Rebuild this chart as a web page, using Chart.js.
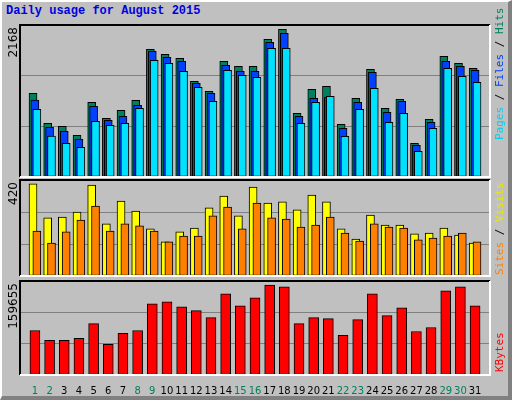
<!DOCTYPE html>
<html>
<head>
<meta charset="utf-8">
<script src="https://cdn.jsdelivr.net/npm/chart.js@4/dist/chart.umd.min.js"></script>
<style>
  body { margin: 0; }
  #wrap { position: relative; width: 512px; height: 400px; background: #c0c0c0; overflow: hidden; }
  #wrap::after { content: ''; position: absolute; inset: 0; border-top: 2px solid #fff; border-left: 2px solid #fff;
    border-right: 4px solid #808080; border-bottom: 4px solid #808080; pointer-events: none; }
  canvas { position: absolute; left: 0; top: 0; }
  #title { position: absolute; left: 6px; top: 4px; font: bold 12px 'Liberation Mono', 'DejaVu Sans Mono', monospace; color: #0000e0; }
</style>
</head>
<body>
<div id="wrap">
  <div id="title">Daily usage for August 2015</div>
  <canvas id="topChart" width="512" height="400"></canvas>
  <canvas id="midChart" width="512" height="400"></canvas>
  <canvas id="botChart" width="512" height="400"></canvas>
</div>
<script>
// Données
const days = Array.from({ length: 31 }, (_, i) => i + 1);
const weekendDays = [1, 2, 8, 9, 15, 16, 22, 23, 29, 30];

const hits = [1194, 766, 723, 595, 1065, 837, 951, 1094, 1821, 1750, 1693, 1365, 1222, 1650, 1579, 1579,
  1964, 2106, 908, 1251, 1293, 751, 1122, 1536, 980, 1108, 481, 823, 1721, 1621, 1550];
const files = [1098, 709, 652, 542, 1008, 809, 866, 1022, 1793, 1707, 1650, 1336, 1194, 1593, 1507, 1507,
  1921, 2049, 866, 1122, 1137, 694, 1065, 1493, 923, 1079, 452, 780, 1650, 1579, 1522];
const pages = [965, 585, 481, 424, 794, 737, 766, 980, 1664, 1621, 1507, 1279, 1080, 1522, 1450, 1422,
  1835, 1835, 766, 1065, 1151, 580, 965, 1265, 780, 908, 366, 694, 1550, 1436, 1350];

const visits = [403, 254, 258, 280, 398, 228, 328, 284, 206, 149, 193, 210, 298, 350, 263, 389,
  319, 324, 289, 354, 324, 206, 162, 267, 223, 223, 184, 188, 210, 179, 144];
const sites = [197, 144, 193, 245, 306, 197, 228, 219, 197, 149, 175, 175, 263, 302, 206, 319,
  254, 249, 214, 223, 258, 188, 153, 228, 214, 210, 158, 166, 175, 188, 149];

const kbytes = [75630, 58820, 58820, 62180, 87390, 52100, 70590, 75630, 121000, 124360, 115960, 109240,
  97470, 137810, 117640, 131090, 152930, 149570, 87390, 97470, 95790, 67220, 94110, 137810, 100830,
  114280, 73940, 80670, 142850, 149570, 117640];

const maxHits = 2168;
const maxVisits = 420;
const maxKB = 159655;

// Cadre en relief autour de la zone de tracé
const framePlugin = {
  id: 'frame',
  afterDraw(chart) {
    const { ctx, chartArea: a } = chart;
    ctx.save();
    ctx.lineWidth = 2;
    ctx.strokeStyle = '#000';
    ctx.beginPath();
    ctx.moveTo(a.left, a.bottom); ctx.lineTo(a.left, a.top); ctx.lineTo(a.right, a.top);
    ctx.stroke();
    ctx.strokeStyle = '#fff';
    ctx.beginPath();
    ctx.moveTo(a.right, a.top); ctx.lineTo(a.right, a.bottom); ctx.lineTo(a.left, a.bottom);
    ctx.stroke();
    ctx.restore();
  }
};

// Libellés verticaux (max à gauche, légende à droite)
function sideLabels(maxText, legendStart, parts) {
  return {
    id: 'sideLabels',
    afterDraw(chart) {
      const { ctx, chartArea: a } = chart;
      ctx.save();
      ctx.font = '12px "DejaVu Sans", sans-serif';
      ctx.fillStyle = '#000';
      ctx.translate(14, a.top + 2);
      ctx.rotate(-Math.PI / 2);
      ctx.textAlign = 'right';
      ctx.textBaseline = 'middle';
      ctx.fillText(maxText, 0, 0);
      ctx.restore();

      ctx.save();
      ctx.font = '11px "DejaVu Sans Mono", monospace';
      ctx.translate(500, legendStart);
      ctx.rotate(-Math.PI / 2);
      ctx.textAlign = 'left';
      ctx.textBaseline = 'middle';
      let x = 0;
      parts.forEach(([text, color]) => {
        ctx.fillStyle = color;
        ctx.fillText(text, x, 0);
        x += ctx.measureText(text).width;
      });
      ctx.restore();
    }
  };
}

function barSet(values, offset, color, order, thickness) {
  return {
    data: values.map((v, i) => ({ x: days[i] + offset, y: v })),
    backgroundColor: color,
    borderColor: '#000',
    borderWidth: 1,
    borderSkipped: false,
    barThickness: thickness,
    grouped: false,
    order: order
  };
}

function makeChart(id, datasets, max, padding, showDays, labels) {
  new Chart(document.getElementById(id), {
    type: 'bar',
    data: { datasets },
    options: {
      responsive: false,
      animation: false,
      layout: { padding },
      plugins: { legend: { display: false }, tooltip: { enabled: false } },
      scales: {
        x: {
          type: 'linear',
          min: 0.5,
          max: 31.5,
          display: showDays,
          afterFit: s => { if (showDays) s.height = 20; },
          afterBuildTicks: s => { s.ticks = days.map(d => ({ value: d })); },
          grid: { display: false },
          border: { display: false },
          ticks: {
            autoSkip: false,
            maxRotation: 0,
            padding: 2,
            font: { family: '"DejaVu Sans", sans-serif', size: 10 },
            color: c => weekendDays.includes(c.tick.value) ? '#00805c' : '#000',
            callback: v => String(v)
          }
        },
        y: {
          min: 0,
          max: max,
          afterFit: s => { s.width = 0; },
          afterBuildTicks: s => { s.ticks = [0, max / 3, 2 * max / 3, max].map(v => ({ value: v })); },
          grid: { color: '#808080', lineWidth: 1, drawTicks: false },
          border: { display: false },
          ticks: { display: false }
        }
      }
    },
    plugins: [framePlugin, labels]
  });
}

makeChart('topChart', [
  barSet(hits, -0.13, '#00805c', 3, 8),
  barSet(files, 0, '#0040ff', 2, 8),
  barSet(pages, 0.13, '#00e0ff', 1, 8)
], maxHits, { left: 20, right: 22, top: 25, bottom: 223 }, false,
  sideLabels(String(maxHits), 140, [['Pages', '#00d0f0'], [' / ', '#000'], ['Files', '#0040ff'], [' / ', '#000'], ['Hits', '#00805c']]));

makeChart('midChart', [
  barSet(visits, -0.13, '#ffff00', 2, 8),
  barSet(sites, 0.13, '#ff8000', 1, 8)
], maxVisits, { left: 20, right: 22, top: 180, bottom: 124 }, false,
  sideLabels(String(maxVisits), 275, [['Sites', '#ff8000'], [' / ', '#000'], ['Visits', '#e8e800']]));

makeChart('botChart', [
  barSet(kbytes, 0, '#ff0000', 1, 10)
], maxKB, { left: 20, right: 22, top: 281, bottom: 5 }, true,
  sideLabels(String(maxKB), 372, [['KBytes', '#ff0000']]));
</script>
</body>
</html>
